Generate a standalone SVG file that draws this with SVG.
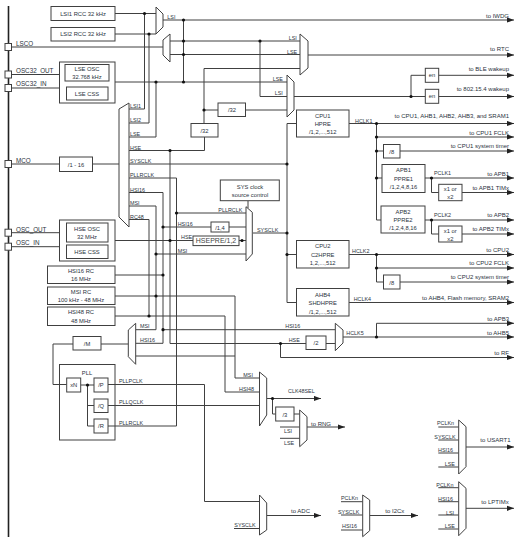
<svg xmlns="http://www.w3.org/2000/svg" width="524" height="540" viewBox="0 0 524 540">
<style>
text{font-family:"Liberation Sans",Arial,sans-serif;font-size:5.8px;fill:#2a3340}
#labels text{font-size:5.4px}
#labels text.p{font-size:6.3px}
#labels text.t{font-size:6px}
.m{text-anchor:middle}
#labels text.e{text-anchor:end;font-size:6px}
.b{fill:#fff;stroke:#404040;stroke-width:1}
.o{fill:none;stroke:#404040;stroke-width:1}
.mux{fill:#fff;stroke:#404040;stroke-width:1}
.w{fill:none;stroke:#404040;stroke-width:1}
.bus{fill:none;stroke:#222;stroke-width:1.6}
.d{fill:#111}
.a{fill:none;stroke:#404040;stroke-width:1;marker-end:url(#ar)}
</style>
<defs><marker id="ar" markerUnits="userSpaceOnUse" markerWidth="8" markerHeight="6" refX="7" refY="3" orient="auto"><path d="M0 0.4L7 3L0 5.6z" fill="#222"/></marker></defs>
<rect width="524" height="540" fill="#fff"/>
<g id="connectors">
<path class="bus" d="M8.5 6V537"/>
<path class="a" d="M163 20H514"/>
<path class="w" d="M12 47H163M12 74.5H59.5M12 88H59.5M12 164H59.5M92.5 164H119M12 232.7H59.5M12 246.7H59.5"/>
<path class="w" d="M115 13.5H156M115 34H156M144.5 13.5V109H129M149 34V123H129M115 82H287M156 82V137H129"/>
<path class="w" d="M183.5 20V82M170 41H300M170 54.5H300M260 41V96.5H287M204 123.5V68.5H300M204 110H218M245.5 110H287M129 150.5H204.5V137"/>
<path class="a" d="M308 55H514"/>
<path class="w" d="M294 96.5H425.3M411 96.5V75.3H425.3"/>
<path class="a" d="M438.7 75.3H514"/><path class="a" d="M438.7 96.5H514"/>
<path class="w" d="M129 164H287M287 123.5V302.5M287 123.5H296.5M287 254.5H296.5M287 302.5H296.5M253 233H287"/>
<path class="w" d="M129 178H176.5V426H108M129 192.5H163V343.3H135.5M129 206H156V329.7H135.5M129 219.5H149V316H225V392H259.5"/>
<path class="w" d="M170 150.5V343.5H306M115 240.5H193M239 240.5H246M176.5 213H246M163 227H211M229 227H246M156 254H246"/>
<path class="w" d="M115 275H163M115 296H235V378H259.5M135.5 356H235M163 329.7H335.3M115 316H149"/>
<path class="a" d="M349 123.5H514"/>
<path class="a" d="M376.5 137H514"/>
<path class="a" d="M400 151H514"/>
<path class="w" d="M376.5 123.5V220H381M376.5 151H383.5M376.5 178H382"/>
<path class="a" d="M425 178H514"/>
<path class="w" d="M431.5 178V192.5H439"/>
<path class="a" d="M462 192.5H514"/>
<path class="a" d="M425 220H514"/>
<path class="w" d="M431.5 220V234H439"/>
<path class="a" d="M462 234H514"/>
<path class="a" d="M349 254.5H514"/>
<path class="a" d="M376.5 268H514"/>
<path class="w" d="M376.5 254.5V282H383.5"/>
<path class="a" d="M400 282H514"/>
<path class="a" d="M349 302.5H514"/>
<path class="a" d="M343 337H514"/>
<path class="a" d="M376.5 337V323.3H514"/>
<path class="w" d="M326 343.5H335.3"/>
<path class="a" d="M280.5 343.5V357.5H514"/>
<path class="w" d="M128.5 344H101M73 344H53V384.5H66.7"/>
<path class="w" d="M80.7 385H94M87.5 385V426H94M87.5 405.5H94"/>
<path class="w" d="M108 384.5H204.5V501.5H259.5M108 405.5H259.5M234 528.5H259.5"/>
<path class="a" d="M266.7 398.5H321"/>
<path class="w" d="M272.5 398.5V414H275.7M294 414H299.7M280 427H299.7M280 438.3H299.7"/>
<path class="a" d="M307 427H345"/>
<path class="a" d="M266.7 515.5H321"/>
<path class="w" d="M341 501.7H362.7M341 515H362.7M341 530H362.7"/>
<path class="a" d="M369.7 515.5H418"/>
<path class="w" d="M438.3 427H458.7M438.3 440H458.7M438.3 453H458.7M438.3 467H458.7"/>
<path class="a" d="M466 447H514"/>
<path class="w" d="M438.3 487.7H458.7M438.3 501.7H458.7M438.3 515H458.7M438.3 529H458.7"/>
<path class="a" d="M466 508.3H514"/>
<path class="w" d="M248 201V208"/>
<g class="d">
<circle cx="144.5" cy="13.5" r="1.6"/><circle cx="149" cy="34" r="1.6"/><circle cx="183.5" cy="20" r="1.6"/><circle cx="183.5" cy="41" r="1.6"/><circle cx="183.5" cy="54.5" r="1.6"/><circle cx="183.5" cy="82" r="1.6"/><circle cx="156" cy="82" r="1.6"/><circle cx="260" cy="41" r="1.6"/><circle cx="204" cy="110" r="1.6"/><circle cx="170" cy="150.5" r="1.6"/><circle cx="411" cy="96.5" r="1.6"/>
<circle cx="287" cy="164" r="1.6"/><circle cx="287" cy="233" r="1.6"/><circle cx="287" cy="254.5" r="1.6"/>
<circle cx="376.5" cy="123.5" r="1.6"/><circle cx="376.5" cy="137" r="1.6"/><circle cx="376.5" cy="151" r="1.6"/><circle cx="376.5" cy="178" r="1.6"/><circle cx="431.5" cy="178" r="1.6"/><circle cx="431.5" cy="220" r="1.6"/><circle cx="376.5" cy="254.5" r="1.6"/><circle cx="376.5" cy="268" r="1.6"/><circle cx="376.5" cy="337" r="1.6"/><circle cx="280.5" cy="343.5" r="1.6"/>
<circle cx="176.5" cy="213" r="1.6"/><circle cx="163" cy="227" r="1.6"/><circle cx="170" cy="240.5" r="1.6"/><circle cx="242" cy="240.5" r="1.6"/><circle cx="156" cy="254" r="1.6"/><circle cx="163" cy="275" r="1.6"/><circle cx="156" cy="296" r="1.6"/><circle cx="149" cy="316" r="1.6"/><circle cx="163" cy="329.7" r="1.6"/><circle cx="87.5" cy="385" r="1.6"/><circle cx="272.5" cy="398.5" r="1.6"/>
</g>
</g>
<g id="pads">
<rect class="b" x="5" y="43.5" width="6.5" height="7"/><rect class="b" x="5" y="71" width="6.5" height="7"/><rect class="b" x="5" y="84.5" width="6.5" height="7"/><rect class="b" x="5" y="160.5" width="6.5" height="7"/><rect class="b" x="5" y="229.2" width="6.5" height="7"/><rect class="b" x="5" y="243.2" width="6.5" height="7"/>
</g>
<g id="lsi1"><rect class="b" x="51" y="6.5" width="64" height="14"/><text class="m" x="83" y="15.5">LSI1 RCC 32 kHz</text></g>
<g id="lsi2"><rect class="b" x="51" y="27.5" width="64" height="13.5"/><text class="m" x="83" y="36">LSI2 RCC 32 kHz</text></g>
<g id="lse"><rect class="b" x="59.5" y="62" width="55.5" height="41"/><rect class="b" x="65" y="64.5" width="44" height="16.5"/><text class="m" x="87" y="70.5">LSE OSC</text><text class="m" x="87" y="78.5">32.768 kHz</text><rect class="b" x="66.5" y="87" width="41.5" height="13"/><text class="m" x="87" y="95.5">LSE CSS</text></g>
<g id="mco-div"><rect class="b" x="59.5" y="157" width="33" height="14.5"/><text class="m" x="76" y="166.5">/1 - 16</text></g>
<g id="hse"><rect class="b" x="59.5" y="220" width="55.5" height="41"/><rect class="b" x="66.5" y="223" width="41.5" height="19"/><text class="m" x="87" y="230.5">HSE OSC</text><text class="m" x="87" y="238.5">32 MHz</text><rect class="b" x="66.5" y="245" width="41.5" height="13.5"/><text class="m" x="87" y="253.5">HSE CSS</text></g>
<g id="hsi16rc"><rect class="b" x="47.5" y="266" width="67.5" height="17.5"/><text class="m" x="81" y="273">HSI16 RC</text><text class="m" x="81" y="281">16 MHz</text></g>
<g id="msirc"><rect class="b" x="47.5" y="287" width="67.5" height="17.5"/><text class="m" x="81" y="294">MSI RC</text><text class="m" x="81" y="302">100 kHz - 48 MHz</text></g>
<g id="hsi48rc"><rect class="b" x="47.5" y="307" width="67.5" height="18.5"/><text class="m" x="81" y="314">HSI48 RC</text><text class="m" x="81" y="323">48 MHz</text></g>
<g id="div-m"><rect class="b" x="73" y="336.5" width="28" height="13.5"/><text class="m" x="87" y="345.5">/M</text></g>
<g id="pll"><rect class="o" x="59.5" y="364.5" width="55.5" height="75.5"/><text class="m" x="87" y="375">PLL</text>
<rect class="b" x="66.7" y="378" width="14" height="14"/><text class="m" x="73.7" y="387">xN</text>
<rect class="b" x="94" y="378" width="14" height="14"/><text class="m" x="101" y="387">/P</text>
<rect class="b" x="94" y="399" width="14" height="13.5"/><text class="m" x="101" y="408">/Q</text>
<rect class="b" x="94" y="419" width="14" height="14"/><text class="m" x="101" y="428">/R</text></g>
<g id="div32a"><rect class="b" x="218" y="103" width="27.5" height="13.5"/><text class="m" x="232" y="112">/32</text></g>
<g id="div32b"><rect class="b" x="191" y="123.5" width="27" height="13.5"/><text class="m" x="204.5" y="132.5">/32</text></g>
<g id="sysclk-ctl"><rect class="b" x="220.3" y="180" width="59" height="20.7"/><text class="m" x="250" y="188.5">SYS clock</text><text class="m" x="250" y="197">source control</text></g>
<g id="hsepre"><rect class="b" x="193" y="236" width="46" height="9.6"/><text class="m" x="216" y="243.2" style="font-size:7px;fill:#444">HSEPRE/1,2</text></g>
<g id="div14"><rect class="b" x="211" y="222" width="18" height="10"/><text class="m" x="220" y="229.5">/1,4</text></g>
<g id="en1"><rect class="b" x="425.3" y="68.3" width="13.4" height="14"/><text class="m" x="432" y="77.3">en</text></g>
<g id="en2"><rect class="b" x="425.3" y="89.3" width="13.4" height="14"/><text class="m" x="432" y="98.3">en</text></g>
<g id="cpu1"><rect class="b" x="296.5" y="110" width="52.5" height="27"/><text class="m" x="322.7" y="117.5">CPU1</text><text class="m" x="322.7" y="125.5">HPRE</text><text class="m" x="322.7" y="134">/1,2,...,512</text></g>
<g id="div8a"><rect class="b" x="383.5" y="144.5" width="16.5" height="13.5"/><text class="m" x="391.7" y="153.5">/8</text></g>
<g id="apb1"><rect class="b" x="382" y="164.5" width="43" height="28"/><text class="m" x="403.5" y="172">APB1</text><text class="m" x="403.5" y="180.5">PPRE1</text><text class="m" x="403.5" y="189">/1,2,4,8,16</text></g>
<g id="x1a"><rect class="b" x="438.7" y="184.3" width="23.3" height="16.4"/><text class="m" x="450.3" y="190.5">x1 or</text><text class="m" x="450.3" y="198.5">x2</text></g>
<g id="apb2"><rect class="b" x="381" y="206" width="44" height="27"/><text class="m" x="403" y="213.5">APB2</text><text class="m" x="403" y="221.5">PPRE2</text><text class="m" x="403" y="230">/1,2,4,8,16</text></g>
<g id="x1b"><rect class="b" x="438.7" y="226" width="23.3" height="16"/><text class="m" x="450.3" y="232.5">x1 or</text><text class="m" x="450.3" y="240.5">x2</text></g>
<g id="cpu2"><rect class="b" x="296.5" y="240.5" width="52.5" height="27.5"/><text class="m" x="322.7" y="248">CPU2</text><text class="m" x="322.7" y="256.5">C2HPRE</text><text class="m" x="322.7" y="264.5">1,2,...,512</text></g>
<g id="div8b"><rect class="b" x="383.5" y="275" width="16.5" height="14"/><text class="m" x="391.7" y="284.5">/8</text></g>
<g id="ahb4"><rect class="b" x="296.5" y="288.5" width="52.5" height="27.5"/><text class="m" x="322.7" y="296.5">AHB4</text><text class="m" x="322.7" y="304.5">SHDHPRE</text><text class="m" x="322.7" y="313.5">/1,2,...,512</text></g>
<g id="div2"><rect class="b" x="306" y="336" width="20" height="13.5"/><text class="m" x="316" y="345">/2</text></g>
<g id="div3"><rect class="b" x="275.7" y="407" width="18.3" height="14"/><text class="m" x="284.8" y="416.5">/3</text></g>
<g id="muxes">
<polygon class="mux" points="156,7 163,14 163,27 156,34"/>
<polygon class="mux" points="170,34 163,40 163,55 170,62"/>
<polygon class="mux" points="300,34 308,41 308,68 300,75"/>
<polygon class="mux" points="287,75 294,82 294,110 287,117"/>
<polygon class="mux" points="129,103 119,109 119,217 129,227"/>
<polygon class="mux" points="246,206.7 252.3,212.3 252.3,254 246,261"/>
<polygon class="mux" points="335.3,323.3 343,330 343,343 335.3,350.7"/>
<polygon class="mux" points="135.7,323.3 128.3,330 128.3,356.7 135.7,364.3"/>
<polygon class="mux" points="259.5,372 266.7,378 266.7,415 259.5,426"/>
<polygon class="mux" points="299.7,410 307,416.7 307,440 299.7,446.7"/>
<polygon class="mux" points="259.5,495 266.7,503 266.7,530 259.5,535"/>
<polygon class="mux" points="362.7,495 369.7,500 369.7,530.7 362.7,536.7"/>
<polygon class="mux" points="458.7,420 466,426.7 466,466.7 458.7,474"/>
<polygon class="mux" points="458.7,481.7 466,488.3 466,528.3 458.7,535.7"/>
</g>
<g id="labels">
<text class="p" x="16" y="46">LSCO</text><text class="p" x="16" y="72.5">OSC32_OUT</text><text class="p" x="16" y="86">OSC32_IN</text><text class="p" x="16" y="163">MCO</text><text class="p" x="16" y="231.5">OSC_OUT</text><text class="p" x="16" y="244.5">OSC_IN</text>
<text x="167.3" y="19">LSI</text><text x="288.7" y="40">LSI</text><text x="287" y="53.5">LSE</text><text x="272.7" y="80.5">LSE</text><text x="274.7" y="94.5">LSI</text>
<text x="130" y="108">LSI1</text><text x="130" y="122">LSI2</text><text x="130" y="136">LSE</text><text x="130" y="149.5">HSE</text><text x="130" y="163">SYSCLK</text><text x="130" y="177">PLLRCLK</text><text x="130" y="191.5">HSI16</text><text x="130" y="205">MSI</text><text x="130" y="218.5">RC48</text>
<text x="218.3" y="211.5">PLLRCLK</text><text x="177.7" y="225.5">HSI16</text><text x="181" y="239">HSE</text><text x="177.7" y="252.5">MSI</text><text x="257" y="231.5">SYSCLK</text>
<text x="140" y="328">MSI</text><text x="140" y="342">HSI16</text><text x="285.3" y="328">HSI16</text><text x="288.7" y="342">HSE</text><text x="346.3" y="335">HCLK5</text>
<text x="119" y="383">PLLPCLK</text><text x="119" y="404">PLLQCLK</text><text x="119" y="425">PLLRCLK</text>
<text x="243.3" y="376.5">MSI</text><text x="239" y="391">HSI48</text><text x="234.3" y="527">SYSCLK</text>
<text x="288" y="393">CLK48SEL</text><text class="t" x="311" y="426">to RNG</text>
<text x="284" y="433">LSI</text><text x="284" y="445">LSE</text>
<text class="t" x="291" y="513">to ADC</text><text class="t" x="385.3" y="513">to I2Cx</text>
<text x="341" y="500">PCLKn</text><text x="338" y="514">SYSCLK</text><text x="342" y="528">HSI16</text>
<text x="437" y="425">PCLKn</text><text x="434.3" y="438.5">SYSCLK</text><text x="438" y="452">HSI16</text><text x="444.7" y="466">LSE</text>
<text x="436.3" y="487">PCLKn</text><text x="438" y="501">HSI16</text><text x="446" y="514.5">LSI</text><text x="444.7" y="528">LSE</text>
<text class="t" x="480.3" y="442">to USART1</text><text class="t" x="481.3" y="504">to LPTIMx</text>
<text x="355" y="122.5">HCLK1</text><text x="434" y="175">PCLK1</text><text x="434" y="216.5">PCLK2</text><text x="352" y="253">HCLK2</text><text x="353.7" y="301">HCLK4</text>
<text class="e" x="509" y="18">to IWDG</text><text class="e" x="509" y="50.5">to RTC</text><text class="e" x="509" y="71">to BLE wakeup</text><text class="e" x="509" y="91">to 802.15.4 wakeup</text>
<text class="e" x="509" y="117.5">to CPU1, AHB1, AHB2, AHB3, and SRAM1</text><text class="e" x="509" y="134.5">to CPU1 FCLK</text><text class="e" x="509" y="147.5">to CPU1 system timer</text>
<text class="e" x="509" y="175.5">to APB1</text><text class="e" x="509" y="189.5">to APB1 TIMx</text><text class="e" x="509" y="217">to APB2</text><text class="e" x="509" y="231">to APB2 TIMx</text>
<text class="e" x="509" y="251.5">to CPU2</text><text class="e" x="509" y="265">to CPU2 FCLK</text><text class="e" x="509" y="279">to CPU2 system timer</text><text class="e" x="509" y="300">to AHB4, Flash memory, SRAM2</text>
<text class="e" x="509" y="320.5">to APB3</text><text class="e" x="509" y="334.5">to AHB5</text><text class="e" x="509" y="355">to RF</text>
</g>
</svg>
